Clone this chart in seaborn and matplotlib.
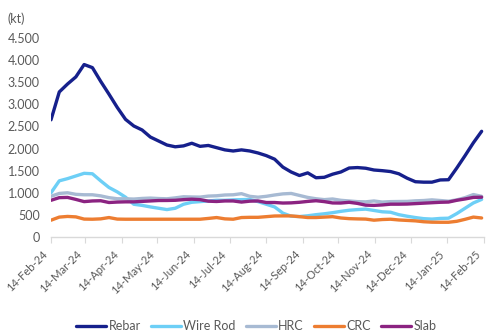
import numpy as np
import pandas as pd
import matplotlib
matplotlib.use("Agg")
import matplotlib.pyplot as plt
from matplotlib.ticker import FuncFormatter, MultipleLocator
from matplotlib.transforms import ScaledTranslation
import seaborn as sns

# Weekly inventory, thousand tonnes, from 14-Feb-24
rebar = [2650, 3280, 3460, 3620, 3900, 3830, 3520, 3230, 2930, 2660,
         2510, 2420, 2260, 2170, 2080, 2040, 2060, 2120, 2050, 2070,
         2020, 1970, 1945, 1970, 1945, 1900, 1840, 1760, 1580, 1470,
         1390, 1450, 1340, 1350, 1420, 1470, 1560, 1570, 1555, 1515,
         1500, 1480, 1430, 1330, 1250, 1240, 1240, 1290, 1295, 1560,
         1840, 2130, 2390]
wire_rod = [1000, 1270, 1320, 1380, 1440, 1430, 1270, 1120, 1020, 900,
            740, 715, 680, 650, 620, 650, 740, 785, 800, 815,
            830, 830, 840, 845, 850, 800, 740, 680, 540, 470,
            462, 480, 505, 525, 550, 580, 605, 620, 630, 600,
            570, 560, 505, 470, 440, 415, 405, 420, 425, 530,
            650, 770, 850]
hrc = [920, 985, 1000, 965, 955, 955, 930, 890, 865, 864,
       858, 872, 880, 870, 864, 885, 910, 905, 902, 925,
       932, 950, 955, 980, 920, 900, 920, 950, 975, 985,
       940, 895, 865, 845, 860, 830, 815, 800, 795, 815,
       790, 800, 803, 805, 818, 825, 840, 825, 810, 840,
       890, 960, 920]
crc = [380, 450, 465, 455, 405, 402, 410, 440, 405, 402,
       402, 402, 402, 402, 402, 402, 402, 402, 402, 420,
       440, 410, 402, 440, 445, 445, 460, 475, 477, 477,
       460, 440, 440, 450, 460, 430, 415, 409, 405, 380,
       395, 402, 385, 375, 365, 345, 335, 333, 333, 355,
       400, 450, 430]
slab = [830, 890, 895, 850, 800, 815, 820, 780, 790, 795,
        795, 805, 815, 825, 826, 830, 845, 855, 845, 810,
        803, 815, 815, 790, 810, 815, 780, 780, 768, 772,
        785, 805, 820, 800, 770, 768, 785, 760, 720, 715,
        725, 742, 742, 745, 755, 765, 775, 785, 790, 830,
        860, 895, 900]

series_names = ["Rebar", "Wire Rod", "HRC", "CRC", "Slab"]
series_colors = ["#16208C", "#6DCFF6", "#A7BAD3", "#ED7D31", "#8B2381"]
tick_labels = ["14-Feb-24", "14-Mar-24", "14-Apr-24", "14-May-24", "14-Jun-24",
               "14-Jul-24", "14-Aug-24", "14-Sep-24", "14-Oct-24", "14-Nov-24",
               "14-Dec-24", "14-Jan-25", "14-Feb-25"]

dates = pd.date_range("2024-02-14", periods=len(rebar), freq="7D")
frames = []
for name, vals in zip(series_names, [rebar, wire_rod, hrc, crc, slab]):
    frames.append(pd.DataFrame({"date": dates, "value": vals, "product": name}))
df = pd.concat(frames, ignore_index=True)

sns.set_style("white")
plt.rcParams["font.family"] = ["Lato", "DejaVu Sans"]
text_grey = "#595959"

fig = plt.figure(figsize=(4.86, 3.34), dpi=100)
ax = fig.add_axes([51 / 486, 1 - 237 / 334, 433 / 486, 199 / 334])

sns.lineplot(data=df, x="date", y="value", hue="product",
             hue_order=series_names, palette=series_colors,
             linewidth=2.4, ax=ax, legend=False)

tick_dates = pd.to_datetime(tick_labels, format="%d-%b-%y")
ax.set_xlim(tick_dates[0], tick_dates[-1])
ax.set_xticks(tick_dates)
ax.set_ylim(0, 4500)
ax.yaxis.set_major_locator(MultipleLocator(500))
ax.yaxis.set_major_formatter(FuncFormatter(lambda v, p: f"{int(v):,}".replace(",", ".")))
ax.tick_params(axis="y", labelsize=9, labelcolor=text_grey, length=0, pad=8)
ax.tick_params(axis="x", length=4, width=0.8, color="#D9D9D9",
               direction="out", bottom=True, pad=7)
ax.set_xticklabels(tick_labels, rotation=45, ha="right", va="center",
                   rotation_mode="anchor", fontsize=8, color=text_grey)
# nudge the slanted date labels a few pixels left so the last one stays inside
shift = ScaledTranslation(-5 / 100, 0, fig.dpi_scale_trans)
for lbl in ax.get_xticklabels():
    lbl.set_transform(lbl.get_transform() + shift)
ax.set_xlabel("")
ax.set_ylabel("")
for side in ["top", "right", "left"]:
    ax.spines[side].set_visible(False)
ax.spines["bottom"].set_color("#D9D9D9")
ax.spines["bottom"].set_linewidth(1.0)
ax.grid(False)

fig.text(7 / 486, 1 - 19 / 334, "(kt)", fontsize=9, color=text_grey, va="center")

handles = [plt.Line2D([], [], color=c, linewidth=2.4) for c in series_colors]
fig.legend(handles, series_names, loc="center", ncol=5,
           bbox_to_anchor=(256 / 486, 1 - 326 / 334), frameon=False,
           fontsize=9, labelcolor=text_grey, handlelength=2.4,
           handletextpad=0.2, columnspacing=0.8,
           borderpad=0, borderaxespad=0)

fig.savefig("out.png", dpi=100)
